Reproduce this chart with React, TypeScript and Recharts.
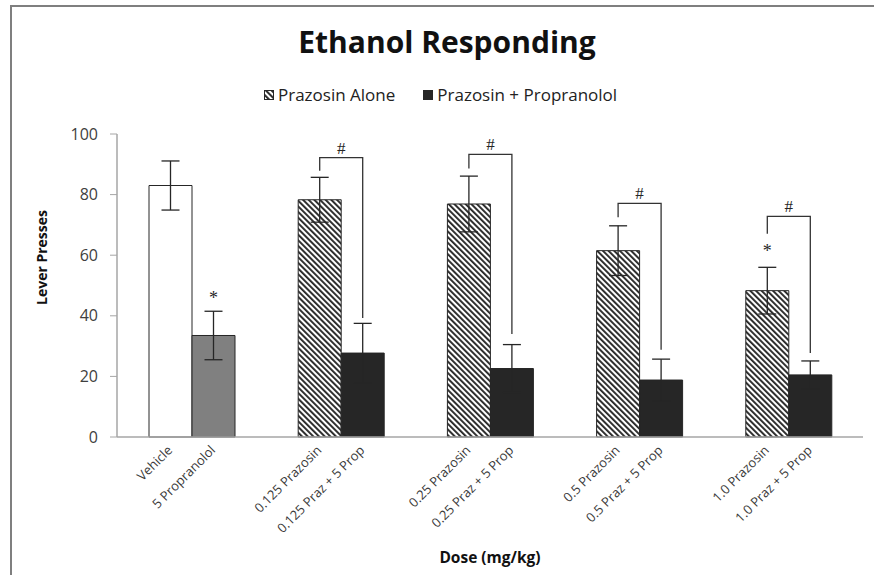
import React from 'react';
import { BarChart, Bar, XAxis, YAxis, ErrorBar, Cell, LabelList } from 'recharts';

// group keys and the two tick labels under each pair of bars
const doses = ['Vehicle', '0.125', '0.25', '0.5', '1.0'];
const aloneLabels = ['Vehicle', '0.125 Prazosin', '0.25 Prazosin', '0.5 Prazosin', '1.0 Prazosin'];
const comboLabels = ['5 Propranolol', '0.125 Praz + 5 Prop', '0.25 Praz + 5 Prop', '0.5 Praz + 5 Prop', '1.0 Praz + 5 Prop'];

// mean lever presses and SEM
const aloneMeans = [83, 78.3, 76.9, 61.5, 48.3];
const aloneSem = [8.1, 7.4, 9.2, 8.2, 7.7];
const comboMeans = [33.5, 27.7, 22.6, 18.8, 20.5];
const comboSem = [8, 9.8, 7.9, 6.9, 4.6];

// significance marks (value where the mark sits, null = none)
const aloneStar = [null, null, null, null, 62.5];
const comboStar = [47, null, null, null, null];
const bracketTop = [null, 92.2, 93.3, 77.1, 72.8];
const bracketLeftEnd = [null, 87.9, 88.6, 72.5, 67.1];
const bracketRightEnd = [null, 39.3, 34, 28.8, 27.7];

const yTicks = [0, 20, 40, 60, 80, 100];

const data = doses.map((dose, i) => ({
  dose,
  alone: aloneMeans[i],
  aloneErr: aloneSem[i],
  combo: comboMeans[i],
  comboErr: comboSem[i],
}));

const FONT = '"Open Sans", sans-serif';
const SERIF = '"Liberation Serif", serif';
const INK = '#262626';
const AXIS = '#a6a6a6';
const BAR = 43;

const Stripes = ({ id }: { id: string }) => (
  <pattern id={id} patternUnits="userSpaceOnUse" width={4} height={4} patternTransform="rotate(-45)">
    <rect width={4} height={4} fill="#fff" />
    <rect width={1.9} height={4} fill={INK} />
  </pattern>
);

const DoseTick = (props: any) => {
  const { x, y, payload } = props;
  const i = payload.index;
  const items = [
    { cx: x - BAR / 2, text: aloneLabels[i] },
    { cx: x + BAR / 2, text: comboLabels[i] },
  ];
  return (
    <g>
      {items.map((it, k) => {
        const ax = it.cx + 3;
        const ay = y + 14;
        return (
          <text
            key={k}
            x={ax}
            y={ay}
            textAnchor="end"
            transform={`rotate(-45, ${ax}, ${ay})`}
            fontFamily={FONT}
            fontSize={13}
            fill="#3a3a3a"
          >
            {it.text}
          </text>
        );
      })}
    </g>
  );
};

const starAt = (stars: (number | null)[]) => (props: any) => {
  const { x, y, width, height, value, index } = props;
  const s = stars[index];
  if (s == null) return null;
  const base = y + height;
  const k = height / value;
  return (
    <text x={x + width / 2} y={base - s * k + 9} textAnchor="middle" fontFamily={SERIF} fontSize={18} fill={INK}>
      *
    </text>
  );
};

const renderBracket = (props: any) => {
  const { x, y, width, height, value, index } = props;
  const top = bracketTop[index];
  if (top == null) return null;
  const base = y + height;
  const k = height / value;
  const toY = (v: number) => base - v * k;
  const xl = x + width / 2;
  const xr = x + width * 1.5;
  const yt = toY(top);
  return (
    <g>
      <path
        d={`M${xl},${toY(bracketLeftEnd[index] as number)} V${yt} H${xr} V${toY(bracketRightEnd[index] as number)}`}
        fill="none"
        stroke="#333"
        strokeWidth={1.3}
      />
      <text x={(xl + xr) / 2} y={yt - 4} textAnchor="middle" fontFamily={SERIF} fontSize={17} fill={INK}>
        #
      </text>
    </g>
  );
};

const LegendIcon = ({ striped }: { striped: boolean }) => (
  <svg width={10} height={10} style={{ marginRight: 4 }}>
    <defs>
      <Stripes id="legendStripes" />
    </defs>
    <rect x={0.5} y={0.5} width={9} height={9} fill={striped ? 'url(#legendStripes)' : INK} stroke={INK} />
  </svg>
);

export default function App() {
  return (
    <div style={{ position: 'absolute', left: 0, top: 0, width: 874, height: 575, background: '#fff', fontFamily: FONT }}>
      <div style={{ position: 'absolute', left: 10, top: 5, right: 0, height: 2, background: '#7f7f7f' }} />
      <div style={{ position: 'absolute', left: 10, top: 5, bottom: 0, width: 2, background: '#7f7f7f' }} />

      <div
        style={{
          position: 'absolute',
          left: 0,
          width: 894,
          top: 21,
          textAlign: 'center',
          fontSize: 30,
          fontWeight: 700,
          color: '#111',
        }}
      >
        Ethanol Responding
      </div>

      <div
        style={{
          position: 'absolute',
          left: 264,
          top: 83,
          display: 'flex',
          alignItems: 'center',
          fontSize: 17,
          color: '#222',
        }}
      >
        <LegendIcon striped />
        <span style={{ marginRight: 28 }}>Prazosin Alone</span>
        <LegendIcon striped={false} />
        <span>Prazosin + Propranolol</span>
      </div>

      <BarChart
        width={874}
        height={575}
        data={data}
        margin={{ top: 134, right: 11, bottom: 18, left: 57 }}
        barSize={BAR}
        barGap={0}
        style={{ position: 'absolute', left: 0, top: 0 }}
      >
        <defs>
          <Stripes id="stripes" />
        </defs>
        <XAxis
          dataKey="dose"
          interval={0}
          height={120}
          tickLine={false}
          tickSize={0}
          tickMargin={0}
          axisLine={{ stroke: AXIS, strokeWidth: 1.5 }}
          tick={<DoseTick />}
          label={{
            value: 'Dose (mg/kg)',
            position: 'insideBottom',
            offset: -6,
            style: { fontFamily: FONT, fontSize: 15.5, fontWeight: 700, fill: '#111' },
          }}
        />
        <YAxis
          domain={[0, 100]}
          ticks={yTicks}
          width={60}
          tickSize={7}
          tickMargin={12}
          axisLine={{ stroke: AXIS, strokeWidth: 1.5 }}
          tickLine={{ stroke: AXIS }}
          tick={{ fontFamily: FONT, fontSize: 16, fill: '#404040' }}
          label={{
            value: 'Lever Presses',
            angle: -90,
            position: 'center',
            dx: -45,
            dy: -28,
            style: { fontFamily: FONT, fontSize: 14, fontWeight: 700, fill: '#111', textAnchor: 'middle' },
          }}
        />
        <Bar dataKey="alone" stroke={INK} strokeWidth={1} isAnimationActive={false}>
          {data.map((_, i) => (
            <Cell key={i} fill={i === 0 ? '#ffffff' : 'url(#stripes)'} />
          ))}
          <ErrorBar dataKey="aloneErr" width={9} stroke={INK} strokeWidth={1.3} />
          <LabelList dataKey="alone" content={renderBracket} />
          <LabelList dataKey="alone" content={starAt(aloneStar)} />
        </Bar>
        <Bar dataKey="combo" stroke={INK} strokeWidth={1} isAnimationActive={false}>
          {data.map((_, i) => (
            <Cell key={i} fill={i === 0 ? '#808080' : INK} />
          ))}
          <ErrorBar dataKey="comboErr" width={9} stroke={INK} strokeWidth={1.3} />
          <LabelList dataKey="combo" content={starAt(comboStar)} />
        </Bar>
      </BarChart>
    </div>
  );
}
